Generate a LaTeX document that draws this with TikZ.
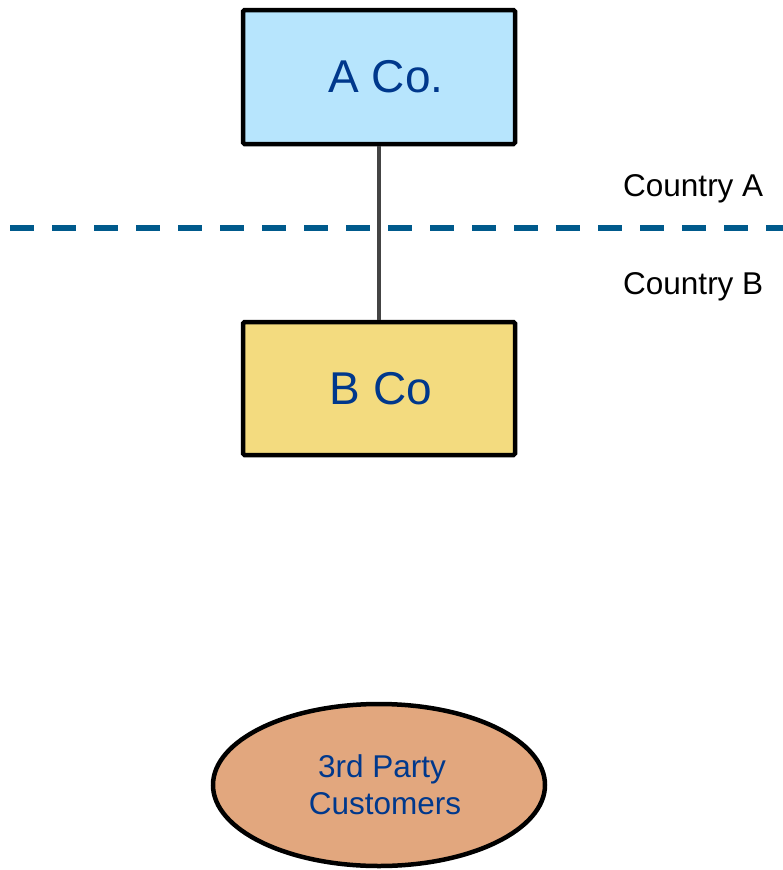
\documentclass[tikz,border=0pt]{standalone}
\usepackage{fontspec}
\setmainfont{Liberation Sans}
\usetikzlibrary{shapes.geometric}
\definecolor{txtblue}{RGB}{0,56,140}
\definecolor{afill}{RGB}{183,229,253}
\definecolor{bfill}{RGB}{243,219,127}
\definecolor{efill}{RGB}{226,167,126}
\definecolor{dashblue}{RGB}{0,90,140}
\definecolor{linkgray}{RGB}{68,68,68}
\tikzset{
  cobox/.style={draw=black, line width=4.5pt, rounded corners=1.5pt, minimum width=272pt, minimum height=134pt, inner sep=0pt, text=txtblue, font=\fontsize{46}{52}\selectfont},
  custell/.style={ellipse, draw=black, line width=4.5pt, fill=efill, minimum width=332pt, minimum height=162pt, inner sep=0pt, text=txtblue, align=center, font=\fontsize{31.5}{37}\selectfont},
  ctry/.style={anchor=base west, inner sep=0pt, text=black, font=\fontsize{31.5}{37}\selectfont},
  border/.style={draw=dashblue, line width=5.5pt, dash pattern=on 24pt off 18pt},
  link/.style={draw=linkgray, line width=4.5pt}
}
\begin{document}
\begin{tikzpicture}[x=1pt,y=-1pt]
\useasboundingbox (0,0) rectangle (783,870);
\coordinate (bl) at (10,228);
\coordinate (br) at (783,228);
\draw[border] (bl) -- (br);
\node[cobox, fill=afill] (a) at (379,77) {\hspace*{14pt}A Co.};
\node[cobox, fill=bfill, minimum height=133pt] (b) at (379,388.5) {\hspace*{4pt}B Co};
\draw[link] (a.south) -- (b.north);
\node[ctry] (ca) at (623,196) {Country A};
\node[ctry] (cb) at (623,294) {Country B};
\node[custell] (c) at (379,785) {\hspace*{6pt}3rd Party\\\hspace*{12pt}Customers};
\end{tikzpicture}
\end{document}
